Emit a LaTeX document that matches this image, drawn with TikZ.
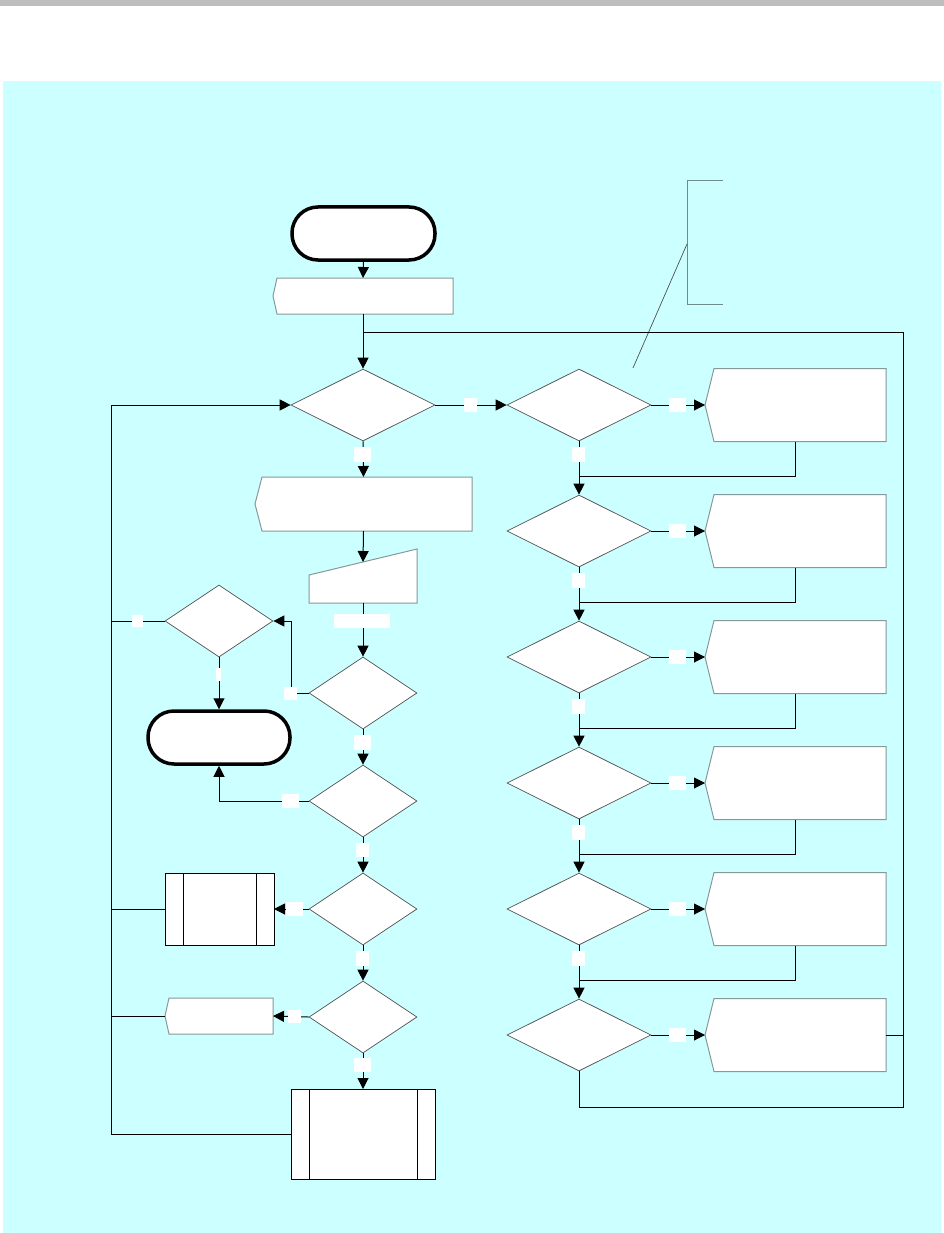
\documentclass[tikz,border=0pt]{standalone}
\usetikzlibrary{shapes.geometric,arrows.meta,calc}
\definecolor{bgcyan}{RGB}{204,255,255}
\definecolor{barg}{RGB}{190,190,190}
\definecolor{dmd}{RGB}{80,80,80}
\definecolor{nbx}{RGB}{135,152,152}
\definecolor{brk}{RGB}{110,140,140}
\newcommand\notchdraw[2]{\draw[notchline] ([xshift=#2pt]#1.north west) -- (#1.north east) -- (#1.south east) -- ([xshift=#2pt]#1.south west) -- (#1.west) -- cycle;}
\newcommand\predraw[1]{\draw[conn] ([xshift=18pt]#1.north west) -- ([xshift=18pt]#1.south west); \draw[conn] ([xshift=-18pt]#1.north east) -- ([xshift=-18pt]#1.south east);}
\begin{document}
\begin{tikzpicture}[x=1pt,y=-1pt,
  conn/.style={line width=1pt, draw=black},
  arr/.style={conn, -{Triangle[length=11pt,width=11pt]}},
  dec/.style={diamond, draw=dmd, fill=white, line width=0.7pt, inner sep=0pt},
  wide/.style={dec, minimum width=144pt, minimum height=72pt},
  narrow/.style={dec, minimum width=108pt, minimum height=72pt},
  term/.style={draw=black, fill=white, line width=3.5pt, rounded corners=26pt, minimum width=143pt, minimum height=53pt, inner sep=0pt},
  anchorbox/.style={rectangle, draw=none, inner sep=0pt, outer sep=0pt},
  proc/.style={rectangle, draw=black, fill=white, line width=1pt, inner sep=0pt, outer sep=0pt},
  lbl/.style={rectangle, fill=white, draw=none, inner sep=0pt},
  notchline/.style={draw=nbx, fill=white, line width=1pt},
]
\useasboundingbox (0,0) rectangle (944,1233);
\fill[barg] (0,0) rectangle (944,6);
\fill[bgcyan] (3,81) rectangle (941,1233);

% annotation bracket
\draw[brk, line width=1pt] (723,181) -- (687,181) -- (687,304) -- (723,304);
\draw[dmd, line width=0.7pt] (687,244) -- (633,368);

% terminals
\node[term] (start) at (363.5,233.5) {};
\node[term, minimum width=142pt] (end) at (219,737.5) {};

% notched boxes (input/display)
\node[anchorbox, minimum width=180pt, minimum height=36pt] (in1) at (363,296) {};
\notchdraw{in1}{4}
\node[anchorbox, minimum width=217pt, minimum height=54pt] (b2) at (363.5,504) {};
\notchdraw{b2}{7}
\node[anchorbox, minimum width=108pt, minimum height=36pt] (b3) at (219,1016) {};
\notchdraw{b3}{4}

% manual input trapezoid
\node[anchorbox, minimum width=108pt, minimum height=54pt] (tz) at (363,576) {};
\draw[notchline] (tz.south west) -- ([yshift=-26pt]tz.north west) -- (tz.north east) -- (tz.south east) -- cycle;

% predefined processes
\node[proc, minimum width=109pt, minimum height=72pt] (p1) at (219.5,909) {};
\predraw{p1}
\node[proc, minimum width=144pt, minimum height=90pt] (p2) at (363,1134) {};
\predraw{p2}

% main decisions
\node[wide] (d1) at (363,405) {};
\node[narrow] (d2) at (363,693) {};
\node[narrow] (d3) at (219,621) {};
\node[narrow] (d4) at (363,801) {};
\node[narrow] (d5) at (363,909) {};
\node[narrow] (d6) at (363,1017) {};

% right column decisions and boxes
\foreach \i/\c in {1/405,2/531,3/657,4/783,5/909,6/1035}{
  \node[wide] (r\i) at (579,\c) {};
  \node[anchorbox, minimum width=181pt, minimum height=73pt] (rb\i) at (795.5,\c) {};
  \notchdraw{rb\i}{9}
}

% loop coordinates
\coordinate (lpTop) at (363,332);
\coordinate (lpBR) at (903,1107);
\coordinate (lx) at (111,1134);

% connectors - main column
\draw[arr] (start.south) -- (in1.north);
\draw[arr] (in1.south) -- (d1.north);
\draw[arr] (d1.south) -- (b2.north);
\draw[arr] (b2.south) -- ([yshift=-13pt]tz.north);
\draw[arr] (tz.south) -- (d2.north);
\draw[arr] (d2.west) -- ++(-17,0) |- (d3.east);
\draw[arr] (d3.south) -- (end.north);
\draw[arr] (d2.south) -- (d4.north);
\draw[arr] (d4.west) -| (end.south);
\draw[arr] (d4.south) -- (d5.north);
\draw[arr] (d5.west) -- (p1.east);
\draw[arr] (d5.south) -- (d6.north);
\draw[arr] (d6.west) -- (b3.east);
\draw[arr] (d6.south) -- (p2.north);

% left loop back
\draw[arr] (p2.west) -- (lx) |- (d1.west);
\draw[conn] (p1.west) -- (p1.west -| lx);
\draw[conn] (b3.west) -- (b3.west -| lx);
\draw[conn] (d3.west) -- (d3.west -| lx);

% right column
\draw[arr] (d1.east) -- (r1.west);
\foreach \i in {1,...,6}{
  \draw[arr] (r\i.east) -- (rb\i.west);
}
\foreach \i/\j in {1/2,2/3,3/4,4/5,5/6}{
  \draw[arr] (r\i.south) -- (r\j.north);
  \draw[conn] (rb\i.south) |- ([yshift=18pt]r\j.north);
}
\draw[conn] (r6.south) |- (lpBR) |- (lpTop);
\draw[conn] (rb6.east) -- (rb6.east -| lpBR);

% labels (empty white tags)
\node[lbl, minimum width=13pt, minimum height=14pt] (t1) at (470.5,405) {};
\node[lbl, minimum width=17pt, minimum height=15pt] (t2) at (362.5,454.5) {};
\node[lbl, minimum width=56pt, minimum height=14pt] (t3) at (362,621) {};
\node[lbl, minimum width=13pt, minimum height=13pt] (t4) at (290.5,693) {};
\node[lbl, minimum width=11pt, minimum height=12pt] (t5) at (137.5,621) {};
\node[lbl, minimum width=5pt, minimum height=13pt] (t6) at (218.5,674.5) {};
\node[lbl, minimum width=17pt, minimum height=15pt] (t7) at (362.5,742.5) {};
\node[lbl, minimum width=17pt, minimum height=14pt] (t8) at (290.5,801) {};
\node[lbl, minimum width=13pt, minimum height=14pt] (t9) at (362.5,850) {};
\node[lbl, minimum width=17pt, minimum height=14pt] (t10) at (294.5,909) {};
\node[lbl, minimum width=13pt, minimum height=15pt] (t11) at (362.5,958.5) {};
\node[lbl, minimum width=13pt, minimum height=13pt] (t12) at (294.5,1016.5) {};
\node[lbl, minimum width=17pt, minimum height=14pt] (t13) at (362.5,1065) {};
\foreach \i/\c in {1/405,2/531,3/657,4/783,5/909,6/1035}{
  \node[lbl, minimum width=17pt, minimum height=14pt] (tr\i) at (677.5,\c) {};
}
\foreach \i/\c in {1/454.5,2/580.5,3/706,4/832,5/958}{
  \node[lbl, minimum width=13pt, minimum height=15pt] (tb\i) at (578.5,\c) {};
}
\end{tikzpicture}
\end{document}
